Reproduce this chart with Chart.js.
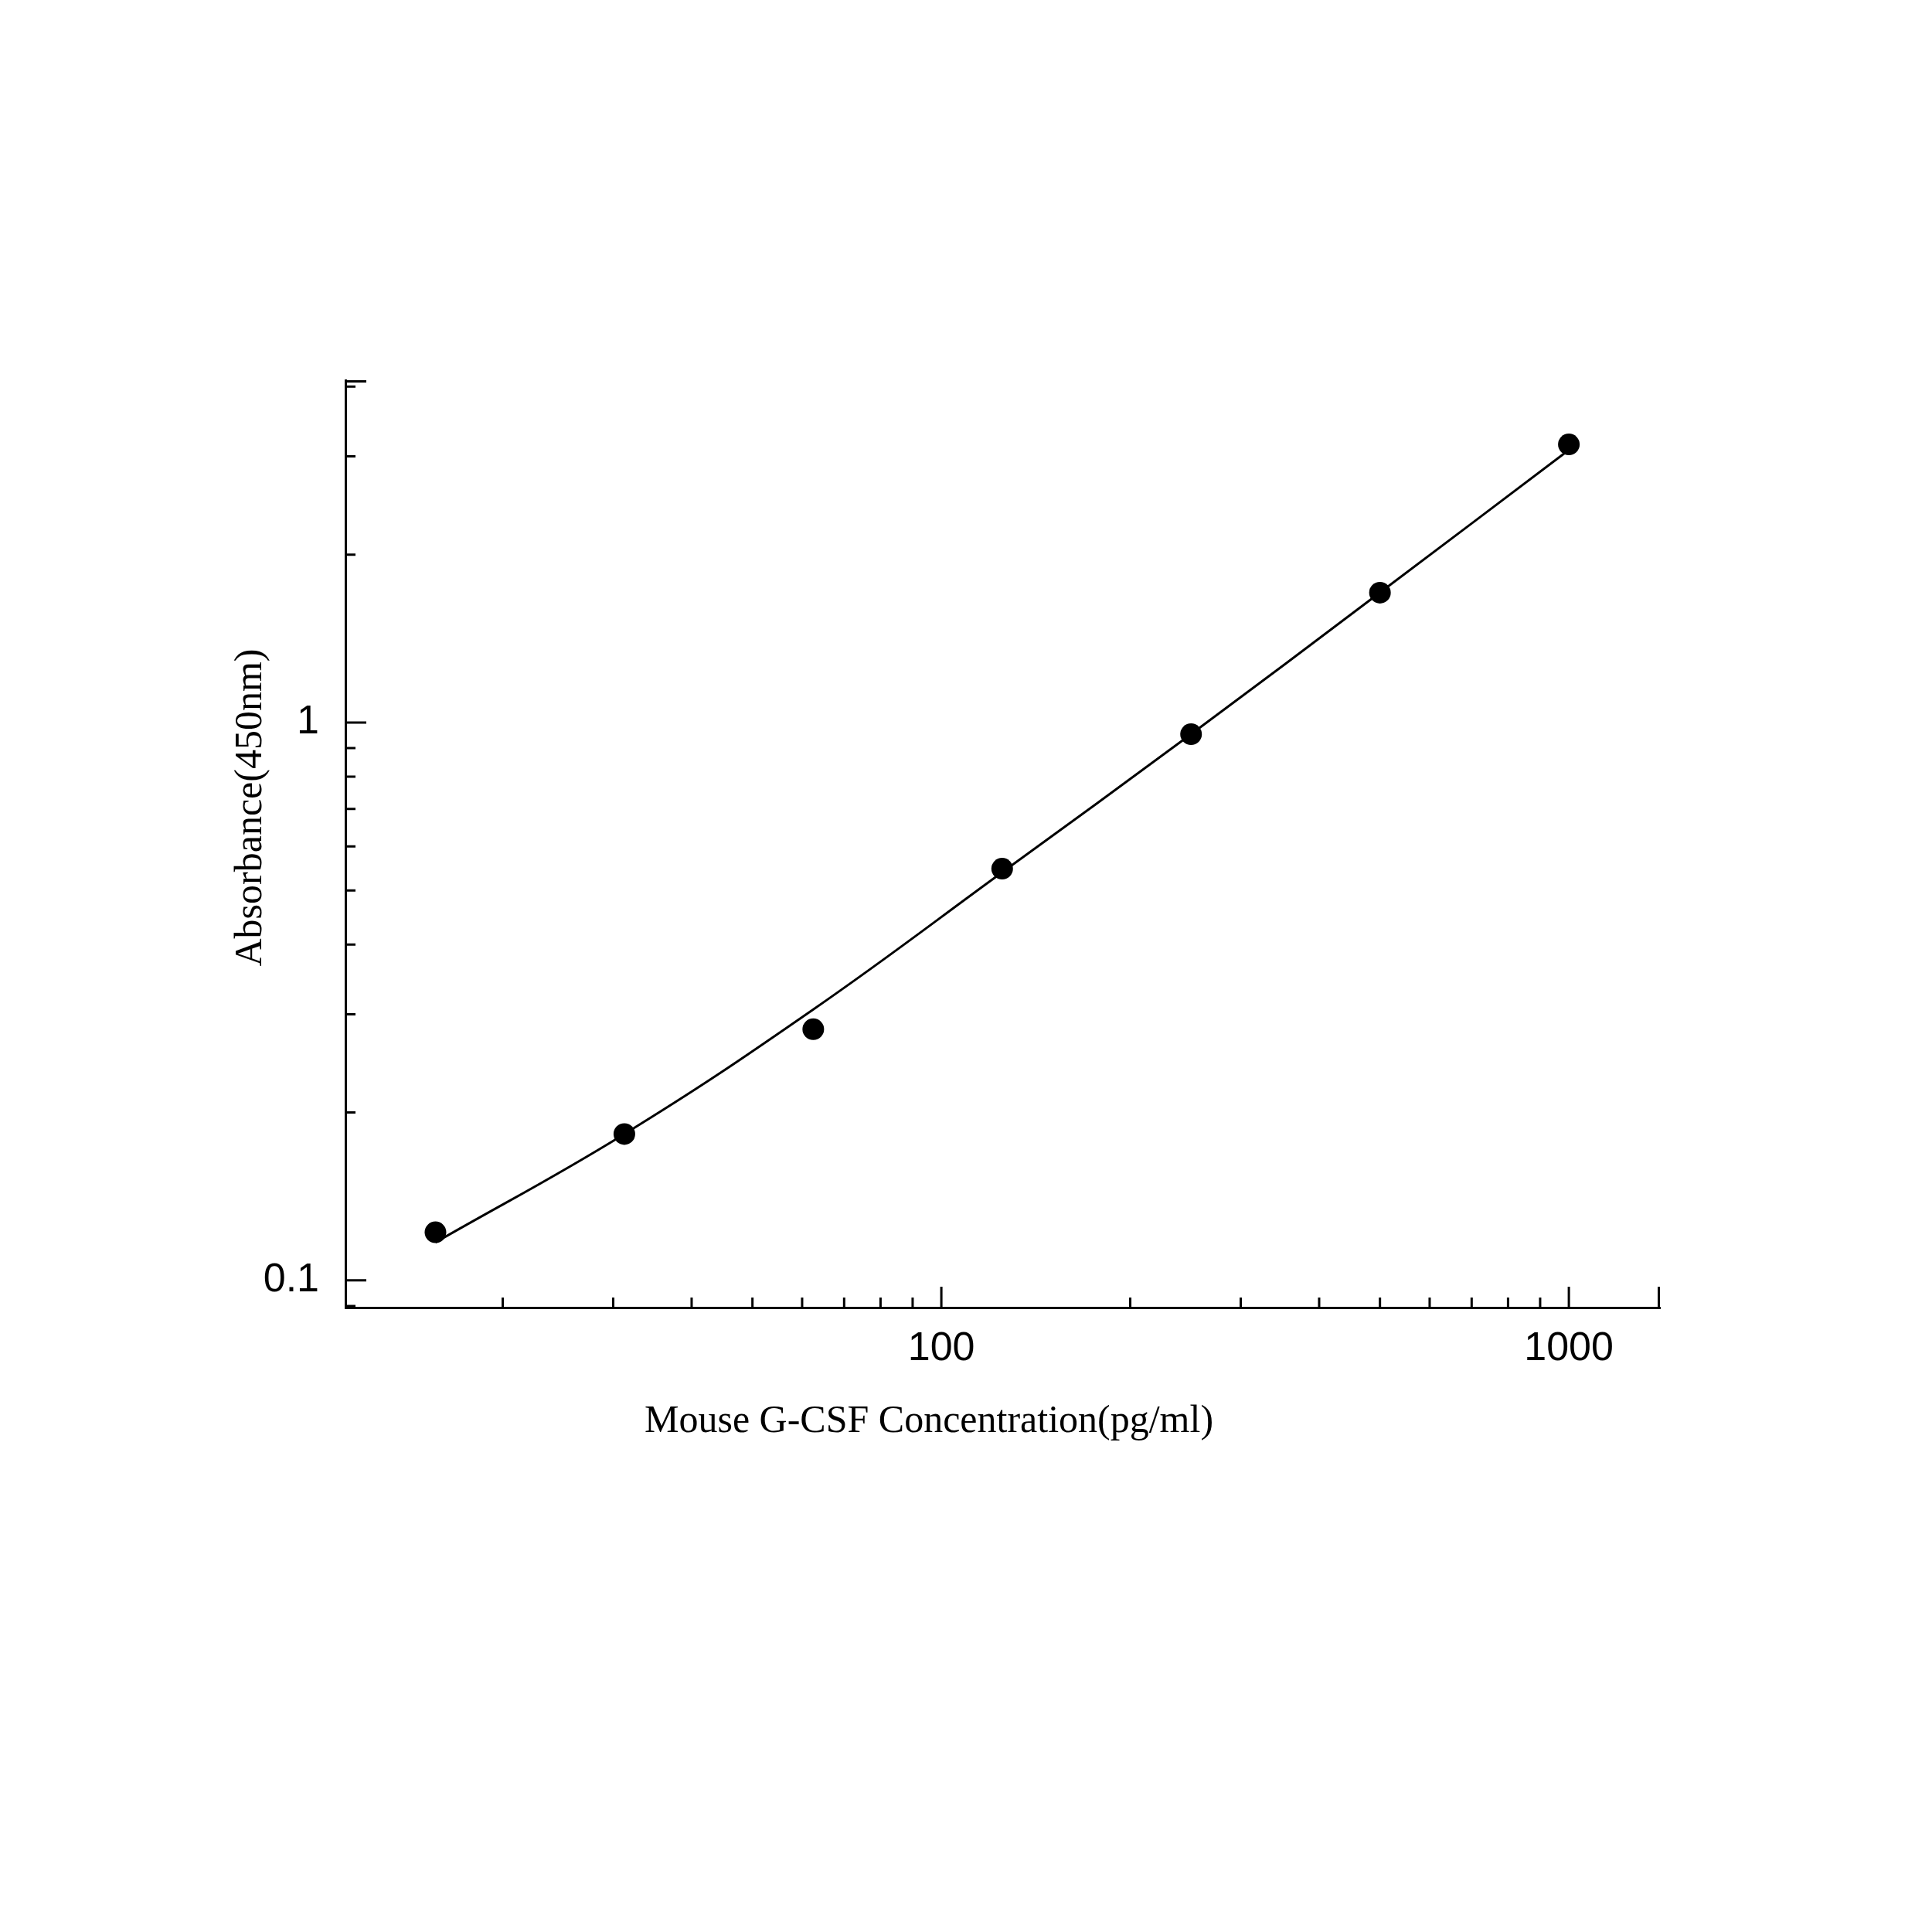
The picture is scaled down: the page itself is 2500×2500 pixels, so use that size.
<!DOCTYPE html>
<html><head><meta charset="utf-8">
<script src="https://cdn.jsdelivr.net/npm/chart.js@4.4.0/dist/chart.umd.min.js"></script>
<style>html,body{margin:0;padding:0;background:#fff;} #wrap{width:2500px;height:2500px;}</style>
</head><body><div id="wrap"><canvas id="c" width="2500" height="2500"></canvas></div>
<script>
const concentrations = [15.625, 31.25, 62.5, 125, 250, 500, 1000];
const absorbance = [0.122, 0.183, 0.282, 0.547, 0.953, 1.709, 3.152];
const curveX = [15.625, 31.25, 62.5, 125, 250, 500, 1000];
const curveY = [0.117, 0.183, 0.306, 0.539, 0.953, 1.71, 3.08];
const xTickLabels = [100, 1000];
const yTickLabels = [0.1, 1];
const xMinorTicks = [20, 30, 40, 50, 60, 70, 80, 90, 200, 300, 400, 500, 600, 700, 800, 900];
const yMinorTicks = [0.09, 0.2, 0.3, 0.4, 0.5, 0.6, 0.7, 0.8, 0.9, 2, 3, 4];
const xTitle = 'Mouse G-CSF Concentration(pg/ml)';
const yTitle = 'Absorbance(450nm)';

const axisDecor = {
  id: 'axisDecor',
  afterDraw(chart) {
    const {ctx, chartArea: a, scales: {x, y}} = chart;
    ctx.save();
    ctx.strokeStyle = '#000';
    ctx.lineWidth = 3;
    const MAJ = 27, MIN = 13;
    ctx.beginPath();
    yTickLabels.forEach(v => { const p = y.getPixelForValue(v); ctx.moveTo(a.left, p); ctx.lineTo(a.left + MAJ, p); });
    yMinorTicks.forEach(v => { const p = y.getPixelForValue(v); ctx.moveTo(a.left, p); ctx.lineTo(a.left + MIN, p); });
    ctx.moveTo(a.left, a.top + 1.5); ctx.lineTo(a.left + MAJ, a.top + 1.5);
    xTickLabels.forEach(v => { const p = x.getPixelForValue(v); ctx.moveTo(p, a.bottom); ctx.lineTo(p, a.bottom - MAJ); });
    xMinorTicks.forEach(v => { const p = x.getPixelForValue(v); ctx.moveTo(p, a.bottom); ctx.lineTo(p, a.bottom - MIN); });
    ctx.moveTo(a.right - 1.5, a.bottom); ctx.lineTo(a.right - 1.5, a.bottom - MAJ);
    ctx.stroke();
    ctx.fillStyle = '#000';
    ctx.font = '50px "Liberation Serif", "Times New Roman", serif';
    ctx.textAlign = 'center';
    ctx.textBaseline = 'alphabetic';
    ctx.fillText(xTitle, a.left + 755, a.bottom + 161);
    ctx.translate(a.left - 109, a.top + 553);
    ctx.rotate(-Math.PI / 2);
    ctx.fillText(yTitle, 0, 0);
    ctx.restore();
  }
};

const tickFont = {family: '"Liberation Sans", Arial, sans-serif', size: 52};

new Chart(document.getElementById('c'), {
  type: 'scatter',
  data: {
    datasets: [
      {
        label: 'Standards',
        data: concentrations.map((c, i) => ({x: c, y: absorbance[i]})),
        backgroundColor: '#000',
        borderWidth: 0,
        pointRadius: 14,
        pointHoverRadius: 14,
        order: 0
      },
      {
        label: 'Fit',
        data: curveX.map((c, i) => ({x: c, y: curveY[i]})),
        showLine: true,
        borderColor: '#000',
        borderWidth: 3,
        pointRadius: 0,
        tension: 0.4,
        fill: false,
        order: 1
      }
    ]
  },
  options: {
    responsive: false,
    devicePixelRatio: 1,
    animation: false,
    layout: {padding: {left: 0, right: 352, top: 492, bottom: 608}},
    plugins: {legend: {display: false}, tooltip: {enabled: false}},
    scales: {
      x: {
        type: 'logarithmic',
        position: 'bottom',
        min: 11.23,
        max: 1397,
        grid: {display: false, drawTicks: false},
        border: {display: true, color: '#000', width: 3},
        afterBuildTicks: s => { s.ticks = xTickLabels.map(v => ({value: v})); },
        afterFit: s => { s.height = 200; },
        ticks: {color: '#000', font: tickFont, padding: 22, maxRotation: 0, autoSkip: false, callback: v => String(v)}
      },
      y: {
        type: 'logarithmic',
        position: 'left',
        min: 0.0894,
        max: 4.108,
        grid: {display: false, drawTicks: false},
        border: {display: true, color: '#000', width: 3},
        afterBuildTicks: s => { s.ticks = yTickLabels.map(v => ({value: v})); },
        afterFit: s => { s.width = 447; },
        ticks: {color: '#000', font: tickFont, padding: 34, autoSkip: false, callback: v => String(v)}
      }
    }
  },
  plugins: [axisDecor]
});
</script>
</body></html>
